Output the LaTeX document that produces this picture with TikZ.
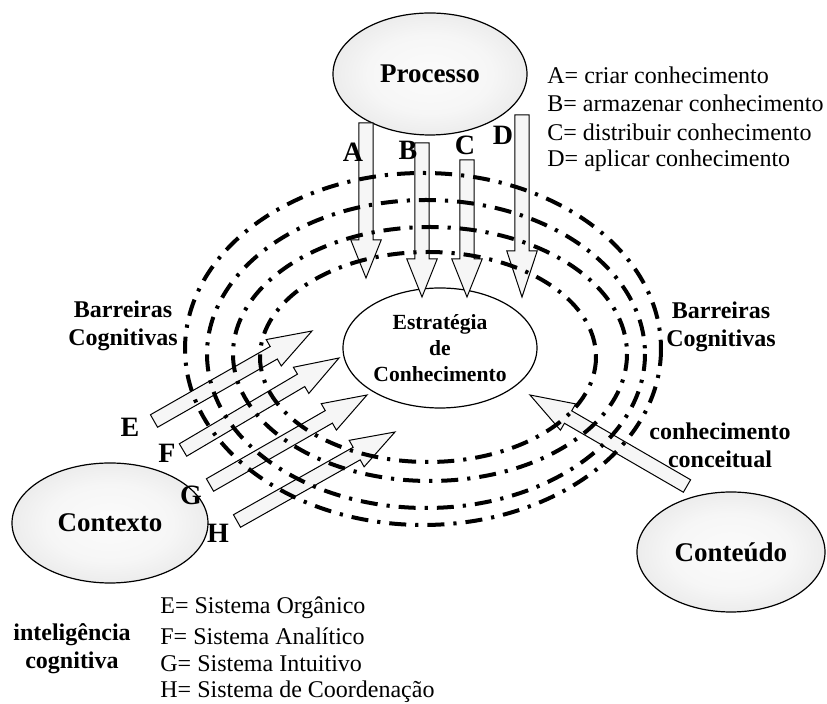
\documentclass[tikz,border=0pt]{standalone}
\usepackage{fontspec}
\setmainfont{Liberation Serif}
\usetikzlibrary{shapes.geometric,calc}

\pgfdeclareradialshading{ballgray}{\pgfpoint{0bp}{0bp}}{color(0bp)=(gray!3); color(16bp)=(gray!7); color(36bp)=(gray!24); color(50bp)=(gray!30)}

\tikzset{
  bubble/.style={ellipse, draw, line width=0.6pt, shade, shading=ballgray, inner sep=0pt, font=\fontsize{13.5}{16}\selectfont\bfseries},
  core/.style={ellipse, draw, line width=0.6pt, fill=white, inner sep=0pt, align=center, font=\fontsize{10.8}{13}\selectfont\bfseries},
  barrier/.style={line width=2pt, dash pattern=on 8.5pt off 4.5pt on 1.6pt off 4.5pt},
  blockarr/.style={draw, line width=0.5pt, fill=gray!7, line join=miter},
  letter/.style={font=\fontsize{14}{16}\selectfont\bfseries},
  lbl/.style={align=center, font=\fontsize{12}{14}\selectfont\bfseries},
  legend/.style={anchor=west, inner sep=0pt, font=\fontsize{12}{14}\selectfont},
}

% block arrow: [head length] tail, tip
\newcommand{\blockarrow}[3][19pt]{%
  \coordinate (hb) at ($(#3)!#1!(#2)$);
  \filldraw[blockarr] ($(#2)!3.6pt!90:(#3)$) -- ($(hb)!3.6pt!90:(#3)$)
    -- ($(hb)!7.6pt!90:(#3)$) -- (#3) -- ($(hb)!7.6pt!-90:(#3)$)
    -- ($(hb)!3.6pt!-90:(#3)$) -- ($(#2)!3.6pt!-90:(#3)$) -- cycle;
}

\begin{document}
\begin{tikzpicture}[x=0.5pt, y=-0.5pt]
    \useasboundingbox (0,0) rectangle (827,704);

    % the three sources
    \node [bubble, minimum width=97pt, minimum height=61pt] (proc) at (430,74) {Processo};
    \node [bubble, minimum width=98pt, minimum height=60pt] (ctx) at (110,523) {Contexto};
    \node [bubble, minimum width=94pt, minimum height=60pt] (cont) at (731,552) {Conteúdo};

    % centre
    \node [core, minimum width=97pt, minimum height=60pt] (estr) at (440,348) {Estratégia\\de\\Conhecimento};

    % arrow ends
    \coordinate (tA) at (366,123); \coordinate (hA) at (366,278);
    \coordinate (tB) at (422,143); \coordinate (hB) at (422,297);
    \coordinate (tC) at (467,160); \coordinate (hC) at (467,297);
    \coordinate (tD) at (522,115); \coordinate (hD) at (522,297);
    \coordinate (tE) at (154,421); \coordinate (hE) at (312,331);
    \coordinate (tF) at (183,450); \coordinate (hF) at (339,358);
    \coordinate (tG) at (210,485); \coordinate (hG) at (367,395);
    \coordinate (tH) at (237,521); \coordinate (hH) at (395,432);
    \coordinate (tK) at (687,486); \coordinate (hK) at (530,395);

    \foreach \a in {A, B, C} \blockarrow{t\a}{h\a};
    \blockarrow[23pt]{tD}{hD}
    \foreach \a in {E, F, G, H, K} \blockarrow[22pt]{t\a}{h\a};

    % barreiras cognitivas
    \draw [barrier] (423,349) ellipse [x radius=238, y radius=176];
    \draw [barrier] (426,354) ellipse [x radius=219, y radius=154];
    \draw [barrier] (430,354) ellipse [x radius=197, y radius=127];
    \draw [barrier] (428,357) ellipse [x radius=168, y radius=105];

    % letters
    \node [letter] (lA) at (353,152) {A};
    \node [letter] (lB) at (408,150) {B};
    \node [letter] (lC) at (465,145) {C};
    \node [letter] (lD) at (503,135) {D};
    \node [letter] (lE) at (130,427) {E};
    \node [letter] (lF) at (167,453) {F};
    \node [letter] (lG) at (191,495) {G};
    \node [letter] (lH) at (218,533) {H};

    \node [lbl] (barL) at (123,326) {Barreiras\\Cognitivas};
    \node [lbl] (barR) at (721,327) {Barreiras\\Cognitivas};
    \node [lbl] (conc) at (720,445) {conhecimento\\conceitual};
    \node [lbl] (intel) at (72,649) {inteligência\\cognitiva};

    % legends
    \foreach \txt [count=\i] in {A= criar conhecimento, B= armazenar conhecimento,
        C= distribuir conhecimento, D= aplicar conhecimento}
      \node [legend] (la\i) at (547, {75+28.5*(\i-1)}) {\txt};
    \foreach \txt [count=\i] in {E= Sistema Orgânico, F= Sistema Analítico,
        G= Sistema Intuitivo, H= Sistema de Coordenação}
      \node [legend] (le\i) at (160, {608+28*(\i-1)}) {\txt};
\end{tikzpicture}
\end{document}
